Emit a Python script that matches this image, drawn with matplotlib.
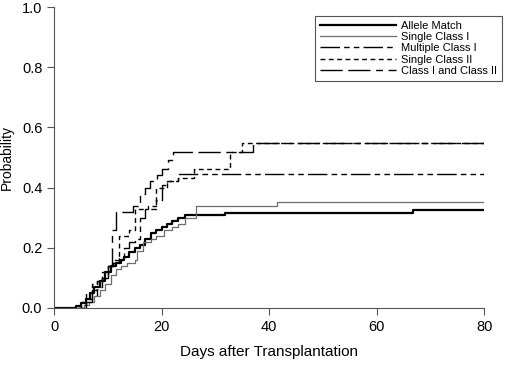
import matplotlib
matplotlib.use("Agg")
import matplotlib.pyplot as plt

plt.rcParams['font.family'] = ['Liberation Sans', 'DejaVu Sans']

# step times (days) and cumulative probability after each step
allele_days = [0, 4, 5, 6, 6.7, 7.5, 8.5, 9.5, 10.5, 11.5, 12.5, 13, 14, 15, 16, 17, 18, 19, 20, 21, 22, 23, 24.4, 31.8, 66.8, 80]
allele_prob = [0, 0.005, 0.015, 0.03, 0.05, 0.07, 0.09, 0.12, 0.14, 0.15, 0.16, 0.17, 0.185, 0.20, 0.21, 0.23, 0.25, 0.26, 0.27, 0.28, 0.29, 0.30, 0.31, 0.316, 0.325, 0.325]

single1_days = [0, 5.5, 6.5, 7.5, 8.5, 9.5, 10.5, 11.5, 12.5, 13.5, 15, 15.5, 16.5, 18, 19, 20.5, 22, 23, 24.4, 26.4, 41.5, 80]
single1_prob = [0, 0.01, 0.02, 0.04, 0.06, 0.08, 0.11, 0.13, 0.14, 0.15, 0.16, 0.19, 0.22, 0.23, 0.24, 0.26, 0.27, 0.28, 0.30, 0.337, 0.352, 0.352]

multi1_days = [0, 5, 6, 7, 8, 9, 10, 11, 12, 13, 14, 15, 16, 17, 19, 20, 21, 23, 80]
multi1_prob = [0, 0.01, 0.03, 0.06, 0.09, 0.10, 0.14, 0.15, 0.17, 0.20, 0.22, 0.23, 0.30, 0.33, 0.36, 0.41, 0.42, 0.445, 0.445]

single2_days = [0, 5, 6, 7, 8, 9, 10, 11, 12, 14, 15, 17.5, 19, 21, 23, 26, 32.7, 35, 80]
single2_prob = [0, 0.02, 0.05, 0.08, 0.09, 0.12, 0.14, 0.16, 0.24, 0.26, 0.33, 0.34, 0.40, 0.42, 0.43, 0.46, 0.518, 0.548, 0.548]

class12_days = [0, 6, 7, 8, 9, 10, 10.7, 11.6, 14.6, 16, 17, 17.9, 19.1, 20, 21.2, 22.1, 37, 80]
class12_prob = [0, 0.02, 0.04, 0.07, 0.10, 0.14, 0.26, 0.32, 0.34, 0.38, 0.40, 0.42, 0.44, 0.46, 0.49, 0.518, 0.548, 0.548]

labels = ["Allele Match", "Single Class I", "Multiple Class I", "Single Class II", "Class I and Class II"]

fig = plt.figure(figsize=(5.2, 3.7), dpi=100)
ax = fig.add_axes([0.104, 0.168, 0.827, 0.813])

ax.plot(allele_days, allele_prob, drawstyle='steps-post', color='black', lw=1.6, label=labels[0])
ax.plot(single1_days, single1_prob, drawstyle='steps-post', color='#6e6e6e', lw=0.9, label=labels[1])
ax.plot(multi1_days, multi1_prob, drawstyle='steps-post', color='black', lw=1.0,
        dashes=(14, 3, 4, 3, 4, 3), label=labels[2])
ax.plot(single2_days, single2_prob, drawstyle='steps-post', color='black', lw=1.0,
        dashes=(3.5, 2.5), label=labels[3])
ax.plot(class12_days, class12_prob, drawstyle='steps-post', color='black', lw=1.0,
        dashes=(16, 4, 16, 4, 5, 4), label=labels[4])

ax.set_xlim(0, 80)
ax.set_ylim(0, 1.0)
ax.set_xticks([0, 20, 40, 60, 80])
ax.set_yticks([0.0, 0.2, 0.4, 0.6, 0.8, 1.0])
ax.set_yticklabels(["0.0", "0.2", "0.4", "0.6", "0.8", "1.0"])
ax.spines['top'].set_visible(False)
ax.spines['right'].set_visible(False)
ax.spines['left'].set_color('#555555')
ax.spines['bottom'].set_color('#555555')
ax.tick_params(direction='out', length=5, width=0.8, labelsize=10.5, colors='#555555', labelcolor='black')
ax.set_xlabel("Days after Transplantation", fontsize=11, labelpad=8)
ax.set_ylabel("Probability", fontsize=10, labelpad=6)

leg = ax.legend(loc='upper right', bbox_to_anchor=(1.055, 0.99), fontsize=8, handlelength=6.8,
                frameon=True, fancybox=False, framealpha=1, borderpad=0.45,
                labelspacing=0.12, handletextpad=0.5)
leg.get_frame().set_edgecolor('#555555')
leg.get_frame().set_linewidth(0.8)

fig.savefig("out.png", dpi=100)
